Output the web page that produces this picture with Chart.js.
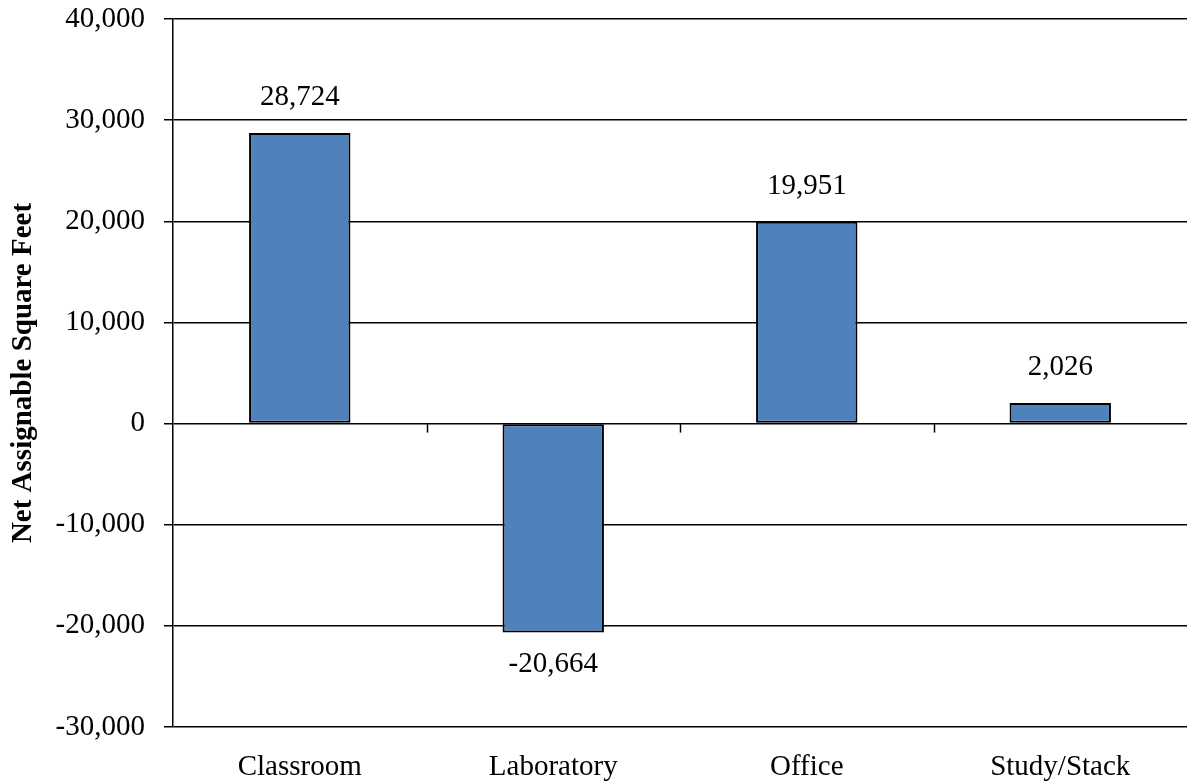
<!DOCTYPE html>
<html>
<head>
<meta charset="utf-8">
<script src="https://cdn.jsdelivr.net/npm/chart.js@4.4.0/dist/chart.umd.min.js"></script>
<style>
html,body{margin:0;padding:0;background:#fff;}
#wrap{width:1187px;height:782px;position:relative;}
</style>
</head>
<body>
<div id="wrap"><canvas id="c" width="1187" height="782"></canvas></div>
<script>
const categories = ["Classroom", "Laboratory", "Office", "Study/Stack"];
const values = [28724, -20664, 19951, 2026];
const yMin = -30000;
const yMax = 40000;
const yStep = 10000;
const yTitle = "Net Assignable Square Feet";

const FONT = "'Liberation Serif', 'Times New Roman', serif";
const fmt = v => v.toLocaleString('en-US');

const extras = {
  id: 'extras',
  afterDatasetsDraw(chart) {
    const ctx = chart.ctx;
    const x = chart.scales.x, y = chart.scales.y;
    const y0 = y.getPixelForValue(0);
    ctx.save();
    ctx.strokeStyle = '#000';
    ctx.lineWidth = 1.5;
    for (let i = 0; i < categories.length - 1; i++) {
      const bx = Math.round((x.getPixelForValue(i) + x.getPixelForValue(i + 1)) / 2) + 0.5;
      ctx.beginPath();
      ctx.moveTo(bx, y0);
      ctx.lineTo(bx, y0 + 9);
      ctx.stroke();
    }
    ctx.fillStyle = '#000';
    ctx.font = '29px ' + FONT;
    ctx.textAlign = 'center';
    ctx.textBaseline = 'alphabetic';
    const meta = chart.getDatasetMeta(0);
    meta.data.forEach((bar, i) => {
      const v = values[i];
      const py = y.getPixelForValue(v);
      if (v >= 0) ctx.fillText(fmt(v), bar.x, py - 28);
      else ctx.fillText(fmt(v), bar.x, py + 39);
    });
    ctx.restore();
  }
};

new Chart(document.getElementById('c'), {
  type: 'bar',
  data: {
    labels: categories,
    datasets: [{
      data: values,
      backgroundColor: '#4F81BD',
      borderColor: '#000',
      borderWidth: 2,
      borderSkipped: false,
      categoryPercentage: 1.0,
      barPercentage: 0.4
    }]
  },
  options: {
    responsive: false,
    animation: false,
    devicePixelRatio: 1,
    layout: { padding: { top: 19, right: 0, left: 0, bottom: 0 } },
    plugins: { legend: { display: false }, tooltip: { enabled: false } },
    scales: {
      x: {
        grid: { display: false, drawTicks: false },
        border: { display: false },
        ticks: { color: '#000', font: { family: FONT, size: 29 }, padding: 23, maxRotation: 0 },
        afterFit(s) { s.height = 55; s.paddingLeft = 0; s.paddingRight = 0; }
      },
      y: {
        min: yMin, max: yMax,
        grid: { color: '#000', lineWidth: 1.5, tickLength: 9 },
        border: { display: true, color: '#000', width: 1.5 },
        ticks: {
          stepSize: yStep, color: '#000', padding: 19,
          font: { family: FONT, size: 29 },
          callback: v => fmt(v)
        },
        title: {
          display: true, text: yTitle, color: '#000',
          font: { family: FONT, size: 29, weight: 'bold' },
          padding: { top: 6, bottom: 0 }
        },
        afterFit(s) { s.width = 173; s.paddingTop = 0; s.paddingBottom = 0; }
      }
    }
  },
  plugins: [extras]
});
</script>
</body>
</html>
